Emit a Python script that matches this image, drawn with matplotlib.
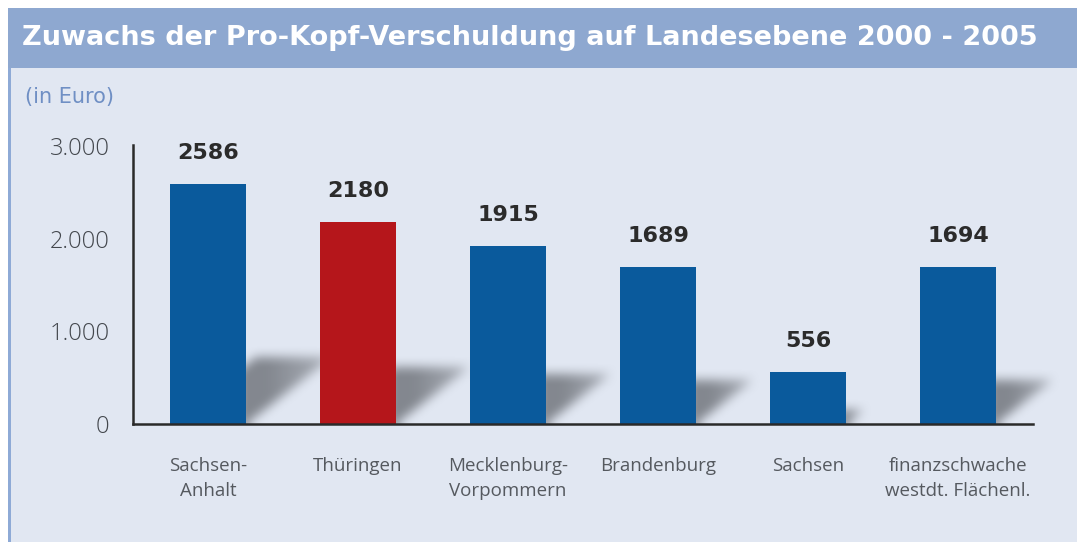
import numpy as np
import matplotlib
matplotlib.use("Agg")
import matplotlib.pyplot as plt
from matplotlib.patches import Rectangle

# data
laender = ["Sachsen-\nAnhalt", "Thüringen", "Mecklenburg-\nVorpommern",
           "Brandenburg", "Sachsen", "finanzschwache\nwestdt. Flächenl."]
zuwachs = [2586, 2180, 1915, 1689, 556, 1694]
yticks = [0, 1000, 2000, 3000]
ytick_labels = ["0", "1.000", "2.000", "3.000"]

BLUE = "#0a5a9c"
RED = "#b5161b"
BG = "#e1e7f2"
HEAD = "#8ea8d0"

plt.rcParams["font.family"] = ["Open Sans", "DejaVu Sans"]

W, H = 1077, 542
fig = plt.figure(figsize=(W / 100, H / 100), dpi=100)
fig.patch.set_facecolor("white")

# background panel + title band + left border
fig.patches.append(Rectangle((8 / W, 0), 1, (H - 68) / H, transform=fig.transFigure,
                             facecolor=BG, edgecolor="none", zorder=-3))
fig.patches.append(Rectangle((8 / W, (H - 68) / H), 1, 60 / H, transform=fig.transFigure,
                             facecolor=HEAD, edgecolor="none", zorder=-3))
fig.patches.append(Rectangle((8 / W, 0), 3 / W, (H - 68) / H, transform=fig.transFigure,
                             facecolor="#8eaad6", edgecolor="none", zorder=-2))
fig.text(22 / W, 1 - 38 / H, "Zuwachs der Pro-Kopf-Verschuldung auf Landesebene 2000 - 2005",
         color="white", fontsize=19.5, fontweight="bold", va="center", ha="left",
         family="DejaVu Sans")
fig.text(25 / W, 1 - 97 / H, "(in Euro)", color="#6f8fc4", fontsize=15, va="center", ha="left",
         family="DejaVu Sans")

# axes: x px 133..1033, y px 145..424
ax_l, ax_r, ax_t, ax_b = 133, 1033, 145, 424
ax = fig.add_axes([ax_l / W, (H - ax_b) / H, (ax_r - ax_l) / W, (ax_b - ax_t) / H])
ax.set_zorder(5)
ax.patch.set_visible(False)
ymax = 3010

x = np.arange(len(zuwachs))
bar_w = 76 / 150
colors = [BLUE] * len(zuwachs)
colors[1] = RED

# soft floor shadows, rendered as a raster in pixel units (a bit wider than the axes)
extra = 60
pw, ph = ax_r - ax_l + extra, ax_b - ax_t
gx, gy = np.meshgrid(np.arange(pw) + 0.5, np.arange(ph) + 0.5)
mask = np.zeros((ph, pw))
for xi, v in zip(x, zuwachs):
    h_px = v / ymax * ph
    dx, dy = 0.36 * h_px, 0.28 * h_px
    xl = (xi - bar_w / 2 + 0.5) * 150
    xr = (xi + bar_w / 2 + 0.5) * 150
    shift = gy * dx / dy
    inside = (gy <= dy) & (gx >= np.maximum(xl + shift, xr - 8)) & (gx <= xr + shift)
    fade = np.clip(1.15 - 0.6 * (gx - xr) / max(dx, 1), 0.3, 1)
    mask = np.maximum(mask, inside * fade)


def box_blur(a, r):
    for axis in (0, 1):
        p = np.pad(a, [(r, r) if i == axis else (0, 0) for i in range(2)], mode="edge")
        c = np.cumsum(p, axis=axis)
        c = np.insert(c, 0, 0, axis=axis)
        n = a.shape[axis]
        a = (np.take(c, np.arange(2 * r + 1, n + 2 * r + 1), axis=axis)
             - np.take(c, np.arange(0, n), axis=axis)) / (2 * r + 1)
    return a


mask = box_blur(box_blur(mask, 6), 5)
rgba = np.zeros((ph, pw, 4))
rgba[..., :3] = np.array([0x72, 0x76, 0x7d]) / 255
rgba[..., 3] = np.clip(mask * 0.85, 0, 1)
ax.imshow(rgba, extent=(-0.5, 5.5 + extra / 150, 0, ymax), origin="lower", aspect="auto",
          interpolation="bilinear", zorder=1, clip_on=False)

ax.bar(x, zuwachs, width=bar_w, color=colors, zorder=2)
for xi, v in zip(x, zuwachs):
    ax.annotate(str(v), (xi, v), xytext=(0, 25), textcoords="offset pixels",
                ha="center", va="baseline", fontsize=16, fontweight="bold", color="#2b2b2b",
                family="DejaVu Sans")

ax.set_xlim(-0.5, 5.5)
ax.set_ylim(0, ymax)

for s in ("top", "right"):
    ax.spines[s].set_visible(False)
for s in ("left", "bottom"):
    ax.spines[s].set_color("#2a2a2a")
    ax.spines[s].set_linewidth(1.8)
    ax.spines[s].set_zorder(3)

ax.set_yticks(yticks)
ax.set_yticklabels(ytick_labels, fontsize=17, color="#43474d", fontweight="light")
ax.set_xticks(x)
ax.set_xticklabels(laender, fontsize=13.5, color="#55595f", linespacing=1.5, va="top")
ax.tick_params(axis="y", length=0, pad=17)
ax.tick_params(axis="x", length=0, pad=24)

fig.savefig("out.png", dpi=100, facecolor=fig.get_facecolor())
